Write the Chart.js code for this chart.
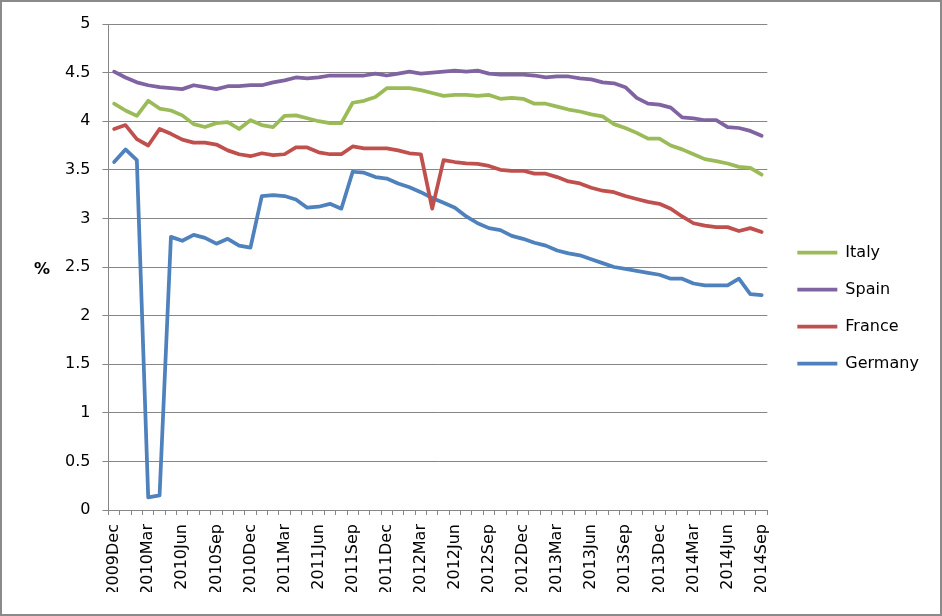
<!DOCTYPE html>
<html>
<head>
<meta charset="utf-8">
<script src="https://cdn.jsdelivr.net/npm/chart.js@4/dist/chart.umd.min.js"></script>
<style>
    body { margin: 0; background: #fff; }
    #wrap { position: relative; width: 942px; height: 616px; }
    #frame { position: absolute; left: 0; top: 0; width: 942px; height: 616px;
             box-sizing: border-box; border: 2px solid #8a8a8a; pointer-events: none; }
</style>
</head>
<body>
<div id="wrap">
    <canvas id="rates" width="942" height="616"></canvas>
    <div id="frame"></div>
</div>
<script>
const months = [
    '2009Dec',
    '2010Jan', '2010Feb', '2010Mar', '2010Apr', '2010May', '2010Jun',
    '2010Jul', '2010Aug', '2010Sep', '2010Oct', '2010Nov', '2010Dec',
    '2011Jan', '2011Feb', '2011Mar', '2011Apr', '2011May', '2011Jun',
    '2011Jul', '2011Aug', '2011Sep', '2011Oct', '2011Nov', '2011Dec',
    '2012Jan', '2012Feb', '2012Mar', '2012Apr', '2012May', '2012Jun',
    '2012Jul', '2012Aug', '2012Sep', '2012Oct', '2012Nov', '2012Dec',
    '2013Jan', '2013Feb', '2013Mar', '2013Apr', '2013May', '2013Jun',
    '2013Jul', '2013Aug', '2013Sep', '2013Oct', '2013Nov', '2013Dec',
    '2014Jan', '2014Feb', '2014Mar', '2014Apr', '2014May', '2014Jun',
    '2014Jul', '2014Aug', '2014Sep'
];

const italy = [4.18, 4.11, 4.055, 4.21, 4.13, 4.11, 4.06, 3.97, 3.94, 3.98, 3.99, 3.92, 4.01,
    3.96, 3.94, 4.055, 4.06, 4.03, 4.00, 3.98, 3.98, 4.19, 4.21, 4.25, 4.34,
    4.34, 4.34, 4.32, 4.29, 4.26, 4.27, 4.27, 4.26, 4.27, 4.23, 4.24, 4.23,
    4.18, 4.18, 4.15, 4.12, 4.10, 4.07, 4.05, 3.97, 3.93, 3.88, 3.82, 3.82,
    3.75, 3.71, 3.66, 3.61, 3.59, 3.565, 3.53, 3.52, 3.45];

const spain = [4.51, 4.45, 4.40, 4.37, 4.35, 4.34, 4.33, 4.37, 4.35, 4.33, 4.36, 4.36, 4.37,
    4.37, 4.40, 4.42, 4.45, 4.44, 4.45, 4.47, 4.47, 4.47, 4.47, 4.49, 4.47,
    4.49, 4.51, 4.49, 4.50, 4.51, 4.52, 4.51, 4.52, 4.49, 4.48, 4.48, 4.48,
    4.47, 4.45, 4.46, 4.46, 4.44, 4.43, 4.40, 4.39, 4.35, 4.24, 4.18, 4.17,
    4.14, 4.04, 4.03, 4.01, 4.01, 3.94, 3.93, 3.90, 3.85];

const france = [3.92, 3.96, 3.815, 3.75, 3.92, 3.87, 3.81, 3.78, 3.78, 3.76, 3.70, 3.66, 3.64,
    3.67, 3.65, 3.66, 3.73, 3.73, 3.68, 3.66, 3.66, 3.74, 3.72, 3.72, 3.72,
    3.70, 3.67, 3.66, 3.10, 3.60, 3.58, 3.565, 3.56, 3.54, 3.50, 3.49, 3.49,
    3.46, 3.46, 3.425, 3.38, 3.36, 3.315, 3.285, 3.27, 3.23, 3.20, 3.17, 3.15,
    3.10, 3.02, 2.95, 2.925, 2.91, 2.91, 2.87, 2.90, 2.86];

const germany = [3.58, 3.71, 3.60, 0.13, 0.15, 2.81, 2.77, 2.83, 2.80, 2.74, 2.79, 2.72, 2.70,
    3.23, 3.24, 3.23, 3.195, 3.11, 3.12, 3.15, 3.10, 3.48, 3.47, 3.425, 3.41,
    3.36, 3.32, 3.27, 3.21, 3.16, 3.11, 3.02, 2.95, 2.90, 2.88, 2.82, 2.79,
    2.75, 2.72, 2.67, 2.64, 2.62, 2.58, 2.54, 2.50, 2.48, 2.46, 2.44, 2.42,
    2.38, 2.38, 2.33, 2.31, 2.31, 2.31, 2.38, 2.22, 2.21];

const seriesNames = ['Italy', 'Spain', 'France', 'Germany'];
const seriesColors = ['#9BBB59', '#8064A2', '#C0504D', '#4F81BD'];
const yTicks = [0, 0.5, 1, 1.5, 2, 2.5, 3, 3.5, 4, 4.5, 5];

const gridColor = '#868686';
const font = { family: 'DejaVu Sans', size: 16 };

Chart.defaults.color = '#000';
Chart.defaults.font.family = 'DejaVu Sans';

// the "%" unit sits horizontally left of the axis, like in the original
const unitLabel = {
    id: 'unitLabel',
    afterDraw(chart) {
        const ctx = chart.ctx;
        ctx.save();
        ctx.font = 'bold 16px "DejaVu Sans"';
        ctx.fillStyle = '#000';
        ctx.textAlign = 'center';
        ctx.textBaseline = 'middle';
        ctx.fillText('%', 42, 270);
        ctx.restore();
    }
};

function buildDatasets() {
    return [italy, spain, france, germany].map((values, i) => ({
        label: seriesNames[i],
        data: values,
        borderColor: seriesColors[i],
        backgroundColor: seriesColors[i],
        borderWidth: 3.75,
        pointRadius: 0,
        pointHoverRadius: 0,
        tension: 0,
        borderJoinStyle: 'round',
        borderCapStyle: 'round',
        pointStyle: 'line'
    }));
}

new Chart(document.getElementById('rates').getContext('2d'), {
    type: 'line',
    data: {
        labels: months,
        datasets: buildDatasets()
    },
    options: {
        responsive: false,
        animation: false,
        layout: { padding: { left: 53, top: 24, right: 21, bottom: 24 } },
        plugins: {
            tooltip: { enabled: false },
            legend: {
                position: 'right',
                labels: {
                    font: font,
                    color: '#000',
                    usePointStyle: true,
                    pointStyle: 'line',
                    pointStyleWidth: 40,
                    padding: 21
                }
            }
        },
        scales: {
            x: {
                offset: true,
                afterFit: (scale) => { scale.height = 82; },
                grid: {
                    display: true,
                    offset: true,
                    drawOnChartArea: false,
                    drawTicks: true,
                    tickLength: 5,
                    color: gridColor
                },
                border: { display: true, color: gridColor },
                ticks: {
                    autoSkip: false,
                    minRotation: 90,
                    maxRotation: 90,
                    padding: 9,
                    font: font,
                    color: '#000',
                    callback: (v, i) => (i % 3 === 0 ? months[i] : '')
                }
            },
            y: {
                min: yTicks[0],
                max: yTicks[yTicks.length - 1],
                afterBuildTicks: (scale) => {
                    scale.ticks = yTicks.map(v => ({ value: v }));
                },
                grid: { color: gridColor, tickLength: 6 },
                border: { display: true, color: gridColor },
                ticks: {
                    padding: 12,
                    font: font,
                    color: '#000',
                    callback: (v) => String(v)
                }
            },
            y2: {
                position: 'right',
                display: true,
                grid: { display: false, drawTicks: false },
                border: { display: false },
                ticks: { display: false },
                afterFit: (scale) => { scale.width = 9; }
            }
        }
    },
    plugins: [unitLabel]
});
</script>
</body>
</html>
